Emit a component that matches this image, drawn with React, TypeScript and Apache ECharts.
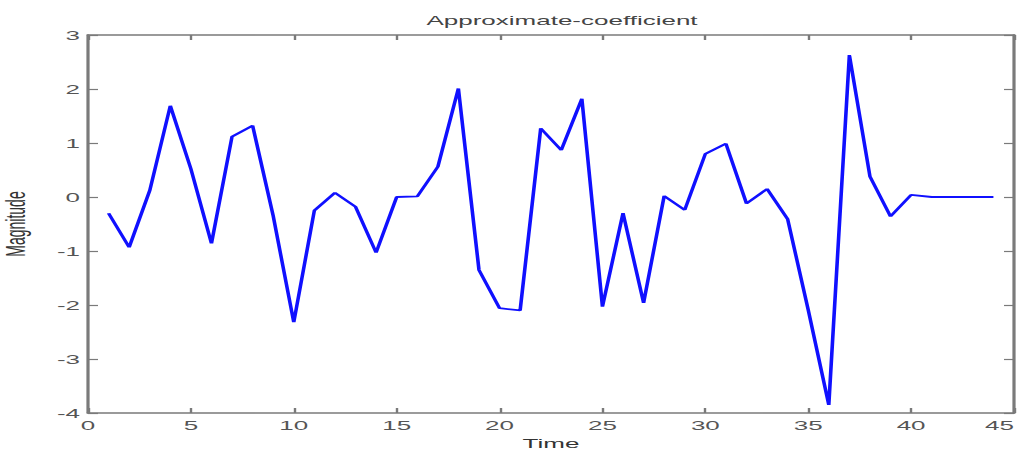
import React, { useEffect, useRef } from "react";
import * as echarts from "echarts";

// Approximation coefficients sampled at t = 1..44
const times: number[] = [
  1, 2, 3, 4, 5, 6, 7, 8, 9, 10, 11, 12, 13, 14, 15, 16, 17, 18, 19, 20, 21, 22,
  23, 24, 25, 26, 27, 28, 29, 30, 31, 32, 33, 34, 35, 36, 37, 38, 39, 40, 41, 42,
  43, 44,
];
const magnitudes: number[] = [
  -0.3, -0.93, 0.12, 1.69, 0.52, -0.86, 1.12, 1.32, -0.35, -2.32, -0.25, 0.08,
  -0.18, -1.03, 0.0, 0.01, 0.56, 2.01, -1.35, -2.06, -2.1, 1.27, 0.87, 1.82,
  -2.03, -0.3, -1.96, 0.02, -0.24, 0.8, 0.99, -0.12, 0.15, -0.41, -2.09, -3.85,
  2.63, 0.38, -0.36, 0.04, 0.0, 0.0, 0.0, 0.0,
];

const titleText = "Approximate-coefficient";
const xName = "Time";
const yName = "Magnitude";

// The figure is laid out at half width and stretched horizontally by 2x.
const STRETCH = 2;
const WIDTH = 1024 / STRETCH;
const HEIGHT = 460;

const FONT = "'Liberation Sans', Arial, Helvetica, sans-serif";
const AXIS_GRAY = "#7a7a7a";
const TEXT = "#333";

export default function App() {
  const ref = useRef<HTMLDivElement>(null);

  useEffect(() => {
    if (!ref.current) return;
    const chart = echarts.init(ref.current, undefined, { renderer: "svg" });

    const frameAxis = {
      axisLine: { show: true, onZero: false, lineStyle: { color: AXIS_GRAY, width: 1.6 } },
      axisTick: { show: true, inside: true, length: 5, lineStyle: { color: AXIS_GRAY, width: 1.2 } },
      splitLine: { show: false },
    };

    chart.setOption({
      animation: false,
      backgroundColor: "#fff",
      title: {
        text: titleText,
        left: 276,
        top: 9,
        textAlign: "center",
        textStyle: { fontFamily: FONT, fontSize: 13, fontWeight: "normal", color: "#444" },
      },
      grid: {
        left: 44,
        right: 5,
        top: 35,
        bottom: 47,
        containLabel: false,
        outerBoundsMode: "none",
      },
      xAxis: [
        {
          type: "value",
          position: "bottom",
          min: 0,
          max: 45,
          interval: 5,
          name: xName,
          nameLocation: "middle",
          nameGap: 21,
          nameTextStyle: { fontFamily: FONT, fontSize: 13, color: TEXT },
          axisLabel: {
            fontFamily: FONT,
            fontSize: 13,
            color: "#555",
            margin: 6,
            alignMaxLabel: "right",
          },
          ...frameAxis,
        },
        {
          type: "value",
          position: "top",
          min: 0,
          max: 45,
          interval: 5,
          axisLabel: { show: false },
          ...frameAxis,
        },
      ],
      yAxis: [
        {
          type: "value",
          position: "left",
          min: -4,
          max: 3,
          interval: 1,
          name: yName,
          nameLocation: "middle",
          nameGap: 29,
          nameTextStyle: { fontFamily: FONT, fontSize: 14, color: TEXT },
          axisLabel: { fontFamily: FONT, fontSize: 13, color: "#555", margin: 4 },
          ...frameAxis,
        },
        {
          type: "value",
          position: "right",
          min: -4,
          max: 3,
          interval: 1,
          axisLabel: { show: false },
          ...frameAxis,
        },
      ],
      series: [
        {
          type: "line",
          xAxisIndex: 0,
          yAxisIndex: 0,
          data: times.map((t, i) => [t, magnitudes[i]]),
          showSymbol: false,
          lineStyle: { color: "#1010ff", width: 1.8 },
          itemStyle: { color: "#1010ff" },
        },
      ],
    });

    return () => chart.dispose();
  }, []);

  return (
    <div
      ref={ref}
      style={{
        position: "absolute",
        left: 0,
        top: 0,
        width: WIDTH,
        height: HEIGHT,
        transform: `scaleX(${STRETCH})`,
        transformOrigin: "0 0",
      }}
    />
  );
}
